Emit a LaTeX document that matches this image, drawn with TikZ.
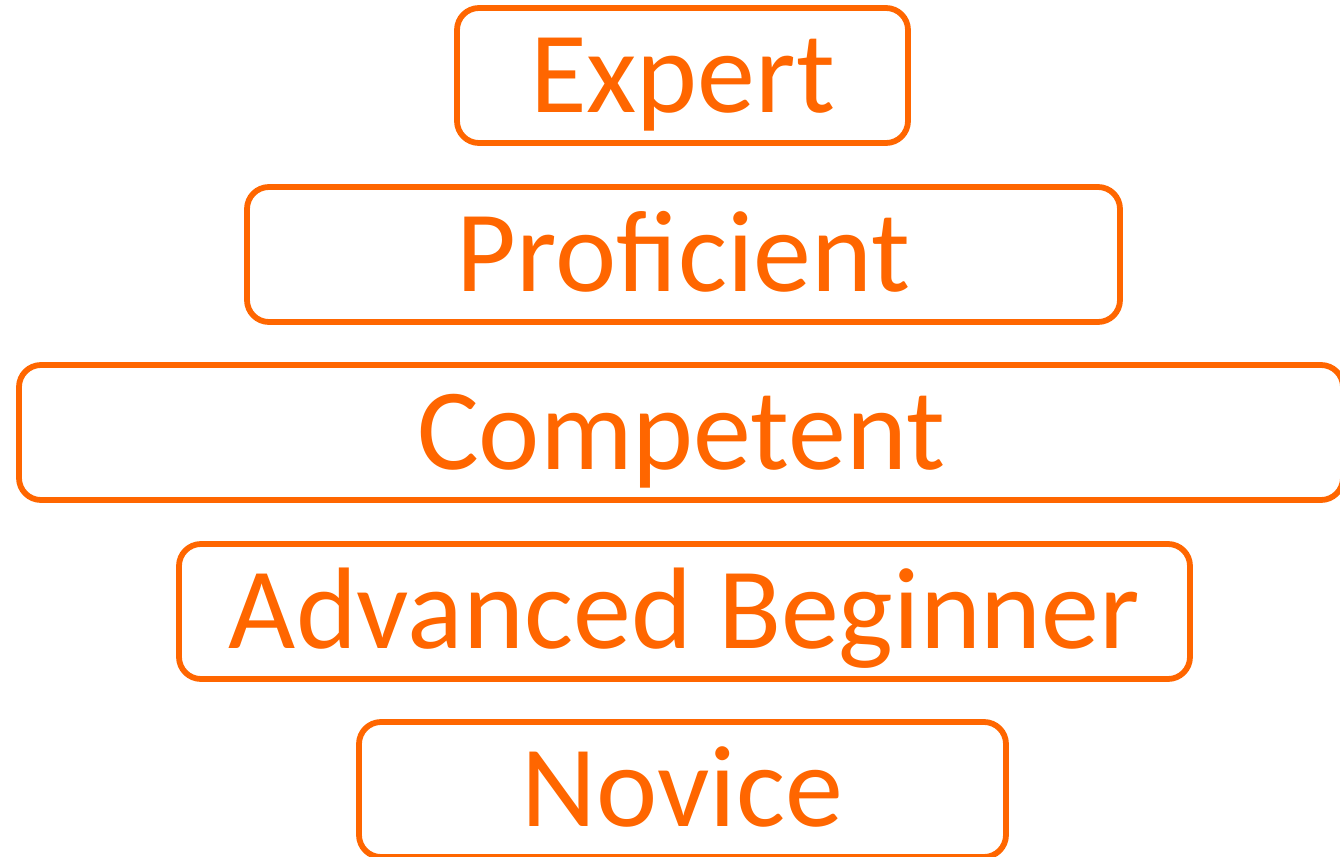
\documentclass[tikz,border=0pt]{standalone}
\usepackage{fontspec}
\setmainfont{Carlito}
\definecolor{orng}{HTML}{FF6600}
\begin{document}
\begin{tikzpicture}[x=0.5pt,y=-0.5pt,
  level/.style={draw=orng, line width=2.9pt, rounded corners=11pt, text=orng,
    inner sep=0pt, minimum height=67.5pt, text height=40pt, text depth=3.5pt,
    font=\fontsize{58pt}{60pt}\selectfont}]
\useasboundingbox (0,0) rectangle (1340,857);
\clip (0,0) rectangle (1340,857);
\node[level, minimum width=225.5pt] (expert) at (682.5,75.5) {Expert};
\node[level, minimum width=436.5pt] (proficient) at (683.5,254.5) {Proficient};
\node[level, minimum width=662pt] (competent) at (681,432.5) {Competent};
\node[level, minimum width=505.5pt] (advanced) at (684.5,611.5) {Advanced Beginner};
\node[level, minimum width=323.5pt] (novice) at (682.5,789.5) {Novice};
\end{tikzpicture}
\end{document}
